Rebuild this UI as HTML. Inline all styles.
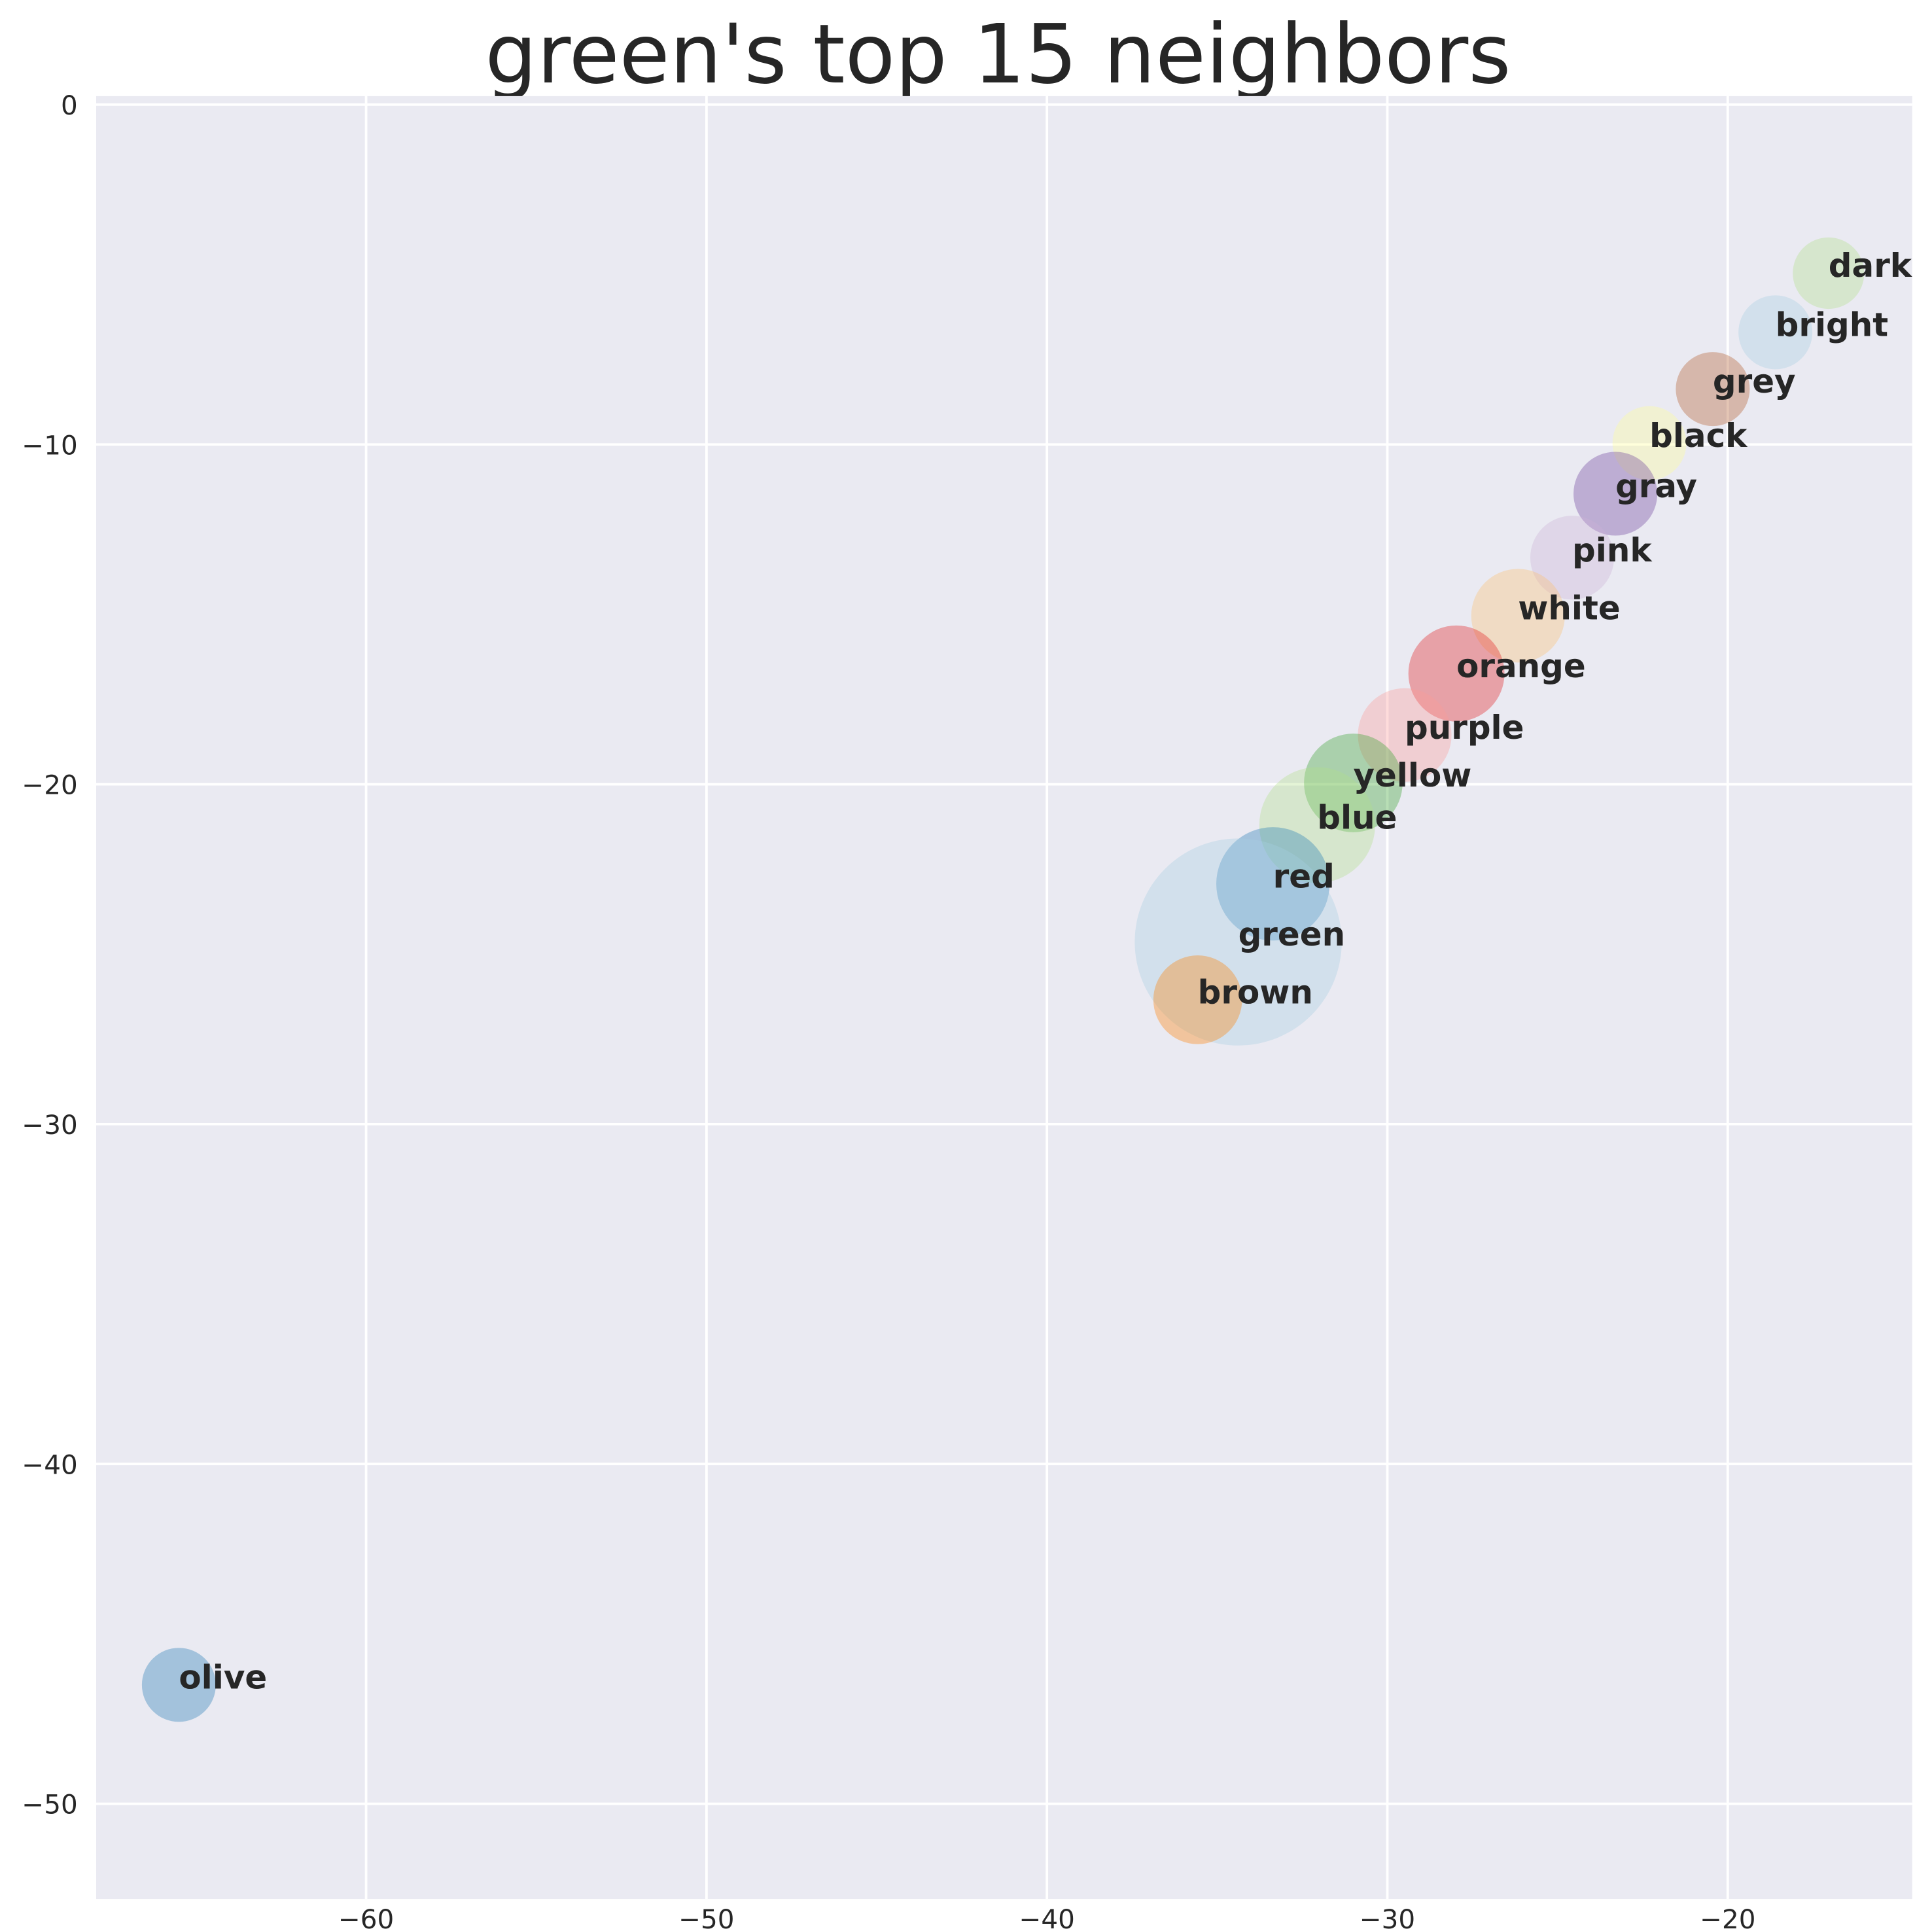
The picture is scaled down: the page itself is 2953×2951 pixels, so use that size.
<!DOCTYPE html>
<html><head><meta charset="utf-8"><style>
html,body{margin:0;padding:0;background:#fff}
svg{display:block}
text{font-family:"DejaVu Sans","Liberation Sans",sans-serif}
</style></head><body>
<svg id="chart" width="2953" height="2951" viewBox="0 0 1568 1567" xmlns="http://www.w3.org/2000/svg">
<text x="810" y="67" text-anchor="middle" font-size="66.5" fill="#262626">green's top 15 neighbors</text>
<rect x="78" y="78" width="1474" height="1463" fill="#eaeaf2"/>
<g id="grid"></g><g id="ticks"></g><g id="marks"></g><g id="labels"></g>
</svg>
<script>
const words=["dark","bright","grey","black","gray","pink","white","orange","purple","yellow","blue","red","green","brown","olive"];
const xs=[-17.04,-18.6,-20.44,-22.3,-23.3,-24.57,-26.16,-27.97,-29.49,-31.0,-32.06,-33.36,-34.38,-35.57,-65.5];
const ys=[-4.96,-6.7,-8.37,-9.96,-11.45,-13.33,-15.04,-16.74,-18.55,-19.96,-21.2,-22.93,-24.64,-26.34,-46.5];
const radii=[29,30,30,30,34,34,38,39,38,40,47,46,84,36,30];
const colors=["#b2df8a","#a6cee3","#b15928","#ffff99","#6a3d9a","#cab2d6","#fdbf6f","#e31a1c","#fb9a99","#33a02c","#b2df8a","#1f78b4","#a6cee3","#ff7f00","#1f78b4"];
const xTicks=[-60,-50,-40,-30,-20];
const yTicks=[0,-10,-20,-30,-40,-50];
const L=78,R=1552,T=78,B=1541,xmin=-67.93,xmax=-14.58,ymin=-52.8,ymax=0.25;
const sx=v=>L+(v-xmin)/(xmax-xmin)*(R-L);
const sy=v=>B-(v-ymin)/(ymax-ymin)*(B-T);
const NS="http://www.w3.org/2000/svg";
function mk(tag,attrs,parent){const e=document.createElementNS(NS,tag);for(const k in attrs)e.setAttribute(k,attrs[k]);document.getElementById(parent).appendChild(e);return e;}
xTicks.forEach(t=>{
 const l=mk('line',{x1:sx(t),x2:sx(t),y1:T,y2:B,stroke:'#fff','stroke-width':2},'grid');
 
 
 const tx=mk('text',{x:sx(t),y:1565,'text-anchor':'middle','font-size':21.5,fill:'#262626'},'ticks');
 
 
 tx.textContent='\u2212'+Math.abs(t);
});
yTicks.forEach(t=>{
 const l=mk('line',{x1:L,x2:R,y1:sy(t),y2:sy(t),stroke:'#fff','stroke-width':2},'grid');
 
 
 const tx=mk('text',{x:63,y:sy(t)+8,'text-anchor':'end','font-size':21.5,fill:'#262626'},'ticks');
 
 
 tx.textContent=t===0?'0':'\u2212'+Math.abs(t);
});
words.forEach((w,i)=>{
 const c=mk('circle',{cx:sx(xs[i]),cy:sy(ys[i]),r:radii[i],fill:colors[i],'fill-opacity':0.35},'marks');
 
 
 const tx=mk('text',{x:sx(xs[i]),y:sy(ys[i])+3,'font-size':26.5,'font-weight':'bold',fill:'#262626'},'labels');
 
 
 tx.textContent=w;
});
</script>
</body></html>
